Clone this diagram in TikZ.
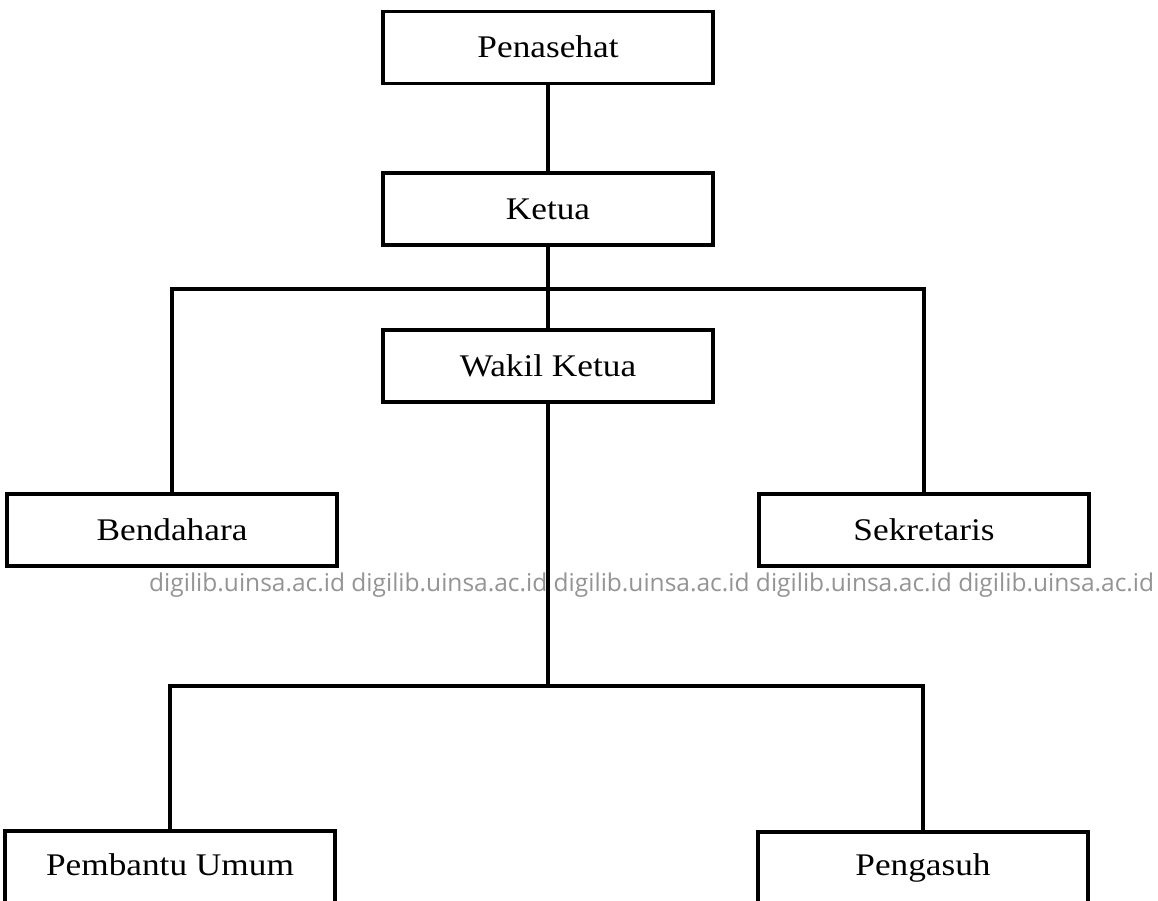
\documentclass[tikz,border=0pt]{standalone}
\usepackage{fontspec}
\setmainfont{Liberation Serif}
\newfontfamily\boxfont[FakeStretch=1.12]{Liberation Serif}
\newfontfamily\wmfont{Open Sans}
\begin{document}
\begin{tikzpicture}[x=1pt,y=-1pt,
  orgbox/.style={draw=black,line width=3.2pt,minimum width=330pt,minimum height=72pt,inner sep=0pt,
    text height=25pt,text depth=4pt,font=\boxfont\fontsize{31.5}{34}\selectfont},
  lbl/.style={anchor=base,inner sep=0pt,font=\boxfont\fontsize{31.5}{34}\selectfont},
  conn/.style={line width=3.4pt}]
\clip (0,0) rectangle (1158,901);
\fill[white] (0,0) rectangle (1158,901);
\node[orgbox] (pen) at (548,47.5) {Penasehat};
\node[orgbox] (ket) at (548,209) {Ketua};
\node[orgbox] (wak) at (548,366) {Wakil Ketua};
\node[orgbox] (ben) at (172,530) {Bendahara};
\node[orgbox] (sek) at (924,530) {Sekretaris};
\node[orgbox,minimum height=150pt] (pu) at (170,906) {};
\node[orgbox,minimum height=150pt] (pg) at (923,907) {};
\node[lbl] (put) at (170,875) {Pembantu Umum};
\node[lbl] (pgt) at (923,875) {Pengasuh};
\coordinate (bar1) at (548,289);
\coordinate (bar2) at (548,686);
\draw[conn] (pen.south) -- (ket.north);
\draw[conn] (ket.south) -- (wak.north);
\draw[conn] (ben.north) |- (bar1) -| (sek.north);
\draw[conn] (wak.south) -- (bar2);
\draw[conn] (pu.north) |- (bar2) -| (pg.north);
\node[anchor=west,inner sep=0pt,text=black!42,font=\wmfont\fontsize{24.5}{26}\selectfont] (wm) at (149,585)
  {digilib.uinsa.ac.id digilib.uinsa.ac.id digilib.uinsa.ac.id digilib.uinsa.ac.id digilib.uinsa.ac.id};
\end{tikzpicture}
\end{document}
